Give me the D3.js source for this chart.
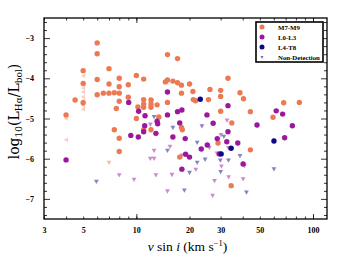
<!DOCTYPE html>
<html>
<head>
<meta charset="utf-8">
<script src="https://cdn.jsdelivr.net/npm/d3@7"></script>
<style>
  body { margin: 0; background: #fff; }
  text { font-family: "Liberation Serif", "DejaVu Serif", serif; }
</style>
</head>
<body>
<div id="chart"></div>
<script>
// M7-M9 detections
const m7Vsini = [4.0, 4.5, 5, 5, 5, 6, 6, 6, 6, 6.5, 7, 7, 7, 7.5, 7.7, 7.5, 8, 8, 8, 8, 8, 8, 9, 9, 10, 10.2, 10, 11, 11, 11, 11, 11, 12.1, 12.1, 12.1, 12.1, 13.1, 13.4, 14.6, 15, 15, 15, 16.1, 17.1, 17.1, 18, 18, 18, 18.2, 17.6, 20, 20.9, 21, 21.6, 25.6, 26.1, 30, 30, 30, 29, 33, 34.7, 34.4, 38.6, 40.4, 44.2, 44.2, 59.4, 68.2, 83.7];
const m7Lha = [-4.91, -4.54, -3.81, -4.13, -4.61, -3.12, -3.39, -4.03, -4.41, -4.37, -3.76, -4.14, -4.37, -4.36, -4.75, -5.28, -4.0, -4.21, -4.37, -4.57, -5.49, -5.82, -4.16, -4.47, -3.93, -4.71, -5.0, -4.02, -4.53, -4.64, -4.72, -5.28, -4.54, -4.64, -4.72, -5.28, -4.66, -4.96, -4.09, -3.41, -4.04, -4.6, -4.07, -3.51, -4.11, -4.17, -4.37, -5.22, -5.28, -5.96, -4.14, -4.33, -4.53, -4.56, -4.53, -4.28, -4.3, -4.45, -4.82, -5.61, -4.0, -5.11, -6.67, -4.36, -4.51, -4.83, -5.78, -4.97, -4.61, -4.6];

// L0-L3 detections
const l0Vsini = [4, 9.05, 9.3, 10.26, 10.3, 11.2, 11.15, 11, 13.1, 13.2, 12.9, 15, 15, 16.1, 17.1, 18.1, 17.6, 18.9, 18.1, 19, 20, 23.3, 25.1, 25.2, 27.2, 28.7, 29.5, 33, 32.5, 33, 37.5, 40.2, 48.2, 61.9, 67.3, 69.1, 76.4];
const l0Lha = [-6.03, -4.6, -5.42, -5.46, -4.82, -4.93, -5.18, -5.33, -5.07, -5.13, -5.37, -4.34, -4.91, -5.46, -4.83, -4.79, -5.11, -5.5, -6.26, -5.89, -5.96, -5.76, -4.91, -5.66, -5.12, -5.5, -5.88, -4.68, -5.58, -5.33, -5.61, -6.13, -5.16, -4.81, -4.89, -5.48, -5.18];

// L4-T8 detections
const l4Vsini = [23, 30.2, 34.4, 60.1];
const l4Lha = [-4.52, -5.88, -5.74, -5.56];

// non-detections (Halpha upper limits)
const ndM7Vsini = [7];
const ndM7Lha = [-6.1];
const ndL0Vsini = [8, 9.7, 12, 12.6, 12, 12.6, 12.9, 15.5, 15.9, 15, 18.1, 21.7, 25.9, 27.7, 27, 30.1, 28.6, 30.3, 33.2, 32.6, 33.3, 40.9, 40.2];
const ndL0Lha = [-6.41, -6.52, -5.15, -5.8, -6.0, -6.0, -6.41, -5.7, -6.4, -6.81, -5.92, -6.27, -5.73, -6.55, -6.92, -5.41, -5.87, -6.19, -5.73, -5.05, -6.46, -6.18, -6.51];
const ndL4Vsini = [5.94, 12.2, 12.6, 15, 16.1, 18.7, 20, 23.5, 22.1, 22.1, 24.5, 31.3, 29.9, 30, 33.2, 38.6, 42, 60.1];
const ndL4Lha = [-6.57, -4.57, -4.96, -5.8, -5.23, -6.79, -6.35, -5.19, -5.6, -6.1, -6.02, -5.45, -6.04, -6.33, -6.04, -5.93, -6.84, -6.26];

// vsini upper limits (M7-M9)
const ulVsini = [4, 4, 5, 5, 5, 5, 5, 5, 5, 5];
const ulLha = [-5.0, -5.53, -3.94, -4.14, -4.24, -4.34, -4.46, -4.56, -4.67, -4.77];

const xTickLabels = [3, 5, 10, 20, 30, 50, 100];
const xMinorTicks = [4, 6, 7, 8, 9, 40, 60, 70, 80, 90];
const yTickLabels = [-7, -6, -5, -4, -3];
const legendLabels = ["M7-M9", "L0-L3", "L4-T8", "Non-Detection"];

const colors = { m7: "#ed7953", l0: "#9c179e", l4: "#0d0887" };

const width = 345, height = 259;
const margin = { top: 18, right: 18, bottom: 40, left: 44 };
const iw = width - margin.left - margin.right;
const ih = height - margin.top - margin.bottom;

const svg = d3.select("#chart").append("svg")
  .attr("width", width).attr("height", height);

const g = svg.append("g")
  .attr("transform", `translate(${margin.left},${margin.top})`);

const x = d3.scaleLog().domain([3, 120]).range([0, iw]);
const y = d3.scaleLinear().domain([-7.5, -2.5]).range([ih, 0]);

const zip = (a, b) => a.map((v, i) => [v, b[i]]);

const tri = (cx, cy, s, dir) => {
  // dir: "down" or "left"
  if (dir === "down") return `M${cx - s},${cy - s * 0.8}L${cx + s},${cy - s * 0.8}L${cx},${cy + s}Z`;
  return `M${cx + s * 0.8},${cy - s}L${cx + s * 0.8},${cy + s}L${cx - s},${cy}Z`;
};

// left-pointing upper limits
g.append("g").selectAll("path").data(zip(ulVsini, ulLha)).join("path")
  .attr("d", d => tri(x(d[0]), y(d[1]), 2.4, "left"))
  .attr("fill", colors.m7).attr("fill-opacity", 0.35);

// down-pointing non-detections
[[ndM7Vsini, ndM7Lha, colors.m7], [ndL0Vsini, ndL0Lha, colors.l0], [ndL4Vsini, ndL4Lha, colors.l4]]
  .forEach(([xs, ys, c]) => {
    g.append("g").selectAll("path").data(zip(xs, ys)).join("path")
      .attr("d", d => tri(x(d[0]), y(d[1]), 2.4, "down"))
      .attr("fill", c).attr("fill-opacity", 0.5);
  });

// detections
[[m7Vsini, m7Lha, colors.m7], [l0Vsini, l0Lha, colors.l0], [l4Vsini, l4Lha, colors.l4]]
  .forEach(([xs, ys, c]) => {
    g.append("g").selectAll("circle").data(zip(xs, ys)).join("circle")
      .attr("cx", d => x(d[0])).attr("cy", d => y(d[1]))
      .attr("r", 2.7).attr("fill", c);
  });

// axes: ticks point inward on all four sides
const fmtX = d => String(d);
const fmtY = d => d < 0 ? "\u2212" + Math.abs(d) : String(d);

function styleAxis(sel) {
  sel.select(".domain").remove();
  sel.selectAll(".tick line").attr("stroke", "#000").attr("stroke-width", 0.8);
  sel.selectAll("text").attr("font-size", 8).attr("font-weight", "bold").attr("fill", "#000");
}

g.append("g").attr("transform", `translate(0,${ih})`)
  .call(d3.axisBottom(x).tickValues(xTickLabels).tickFormat(fmtX).tickSize(-2.5).tickPadding(8))
  .call(styleAxis);
g.append("g").attr("transform", `translate(0,${ih})`)
  .call(d3.axisBottom(x).tickValues(xMinorTicks).tickFormat("").tickSize(-2.5))
  .call(styleAxis);
g.append("g").attr("transform", `translate(0,${ih})`)
  .call(d3.axisBottom(x).tickValues([10, 100]).tickFormat("").tickSize(-5))
  .call(styleAxis);
g.append("g")
  .call(d3.axisTop(x).tickValues(xTickLabels.concat(xMinorTicks)).tickFormat("").tickSize(-2.5))
  .call(styleAxis);
g.append("g")
  .call(d3.axisTop(x).tickValues([10, 100]).tickFormat("").tickSize(-5))
  .call(styleAxis);

const yMinor = d3.range(-7.4, -2.5, 0.2).filter(v => Math.abs(v - Math.round(v)) > 0.05);
g.append("g")
  .call(d3.axisLeft(y).tickValues(yTickLabels).tickFormat(fmtY).tickSize(-6).tickPadding(10))
  .call(styleAxis);
g.append("g")
  .call(d3.axisLeft(y).tickValues(yMinor).tickFormat("").tickSize(-3))
  .call(styleAxis);
g.append("g").attr("transform", `translate(${iw},0)`)
  .call(d3.axisRight(y).tickValues(yTickLabels).tickFormat("").tickSize(-6))
  .call(styleAxis);
g.append("g").attr("transform", `translate(${iw},0)`)
  .call(d3.axisRight(y).tickValues(yMinor).tickFormat("").tickSize(-3))
  .call(styleAxis);

// frame
g.append("rect").attr("width", iw).attr("height", ih)
  .attr("fill", "none").attr("stroke", "#000").attr("stroke-width", 1.3);

// axis titles
const xl = svg.append("text")
  .attr("x", margin.left + iw / 2 + 2).attr("y", 251)
  .attr("text-anchor", "middle").attr("font-size", 13.5);
xl.append("tspan").attr("font-style", "italic").text("v");
xl.append("tspan").text(" sin ");
xl.append("tspan").attr("font-style", "italic").text("i");
xl.append("tspan").text(" (km s");
xl.append("tspan").attr("font-size", 8.5).attr("dy", -5).text("\u22121");
xl.append("tspan").attr("dy", 5).text(")");

const yl = svg.append("text")
  .attr("transform", `translate(19,${margin.top + ih / 2 - 7}) rotate(-90)`)
  .attr("text-anchor", "middle").attr("font-size", 14)
  .style("font-family", "'DejaVu Serif', serif");
yl.append("tspan").text("log");
yl.append("tspan").attr("font-size", 9).attr("dy", 3).text("10");
yl.append("tspan").attr("dy", -3).text("(L");
yl.append("tspan").attr("font-size", 9).attr("dy", 3).text("H\u03b1");
yl.append("tspan").attr("dy", -3).text("/L");
yl.append("tspan").attr("font-size", 9).attr("dy", 3).text("bol");
yl.append("tspan").attr("dy", -3).text(")");

// legend
const lg = svg.append("g").attr("transform", "translate(256,22)");
lg.append("rect").attr("width", 67).attr("height", 40)
  .attr("fill", "#fff").attr("stroke", "#000").attr("stroke-width", 1.6);
const legColors = [colors.m7, colors.l0, colors.l4];
legendLabels.forEach((lab, i) => {
  const cy = 5 + i * 10;
  if (i < 3) {
    lg.append("circle").attr("cx", 6).attr("cy", cy).attr("r", 2.5).attr("fill", legColors[i]);
  } else {
    lg.append("path").attr("d", `M4.5,${cy - 1}L7.5,${cy - 1}L6,${cy + 2}Z`)
      .attr("fill", colors.l4).attr("fill-opacity", 0.6);
  }
  lg.append("text").attr("x", 22).attr("y", cy + 2.5)
    .attr("font-size", 6.8).attr("font-weight", "bold").text(lab);
});
</script>
</body>
</html>
